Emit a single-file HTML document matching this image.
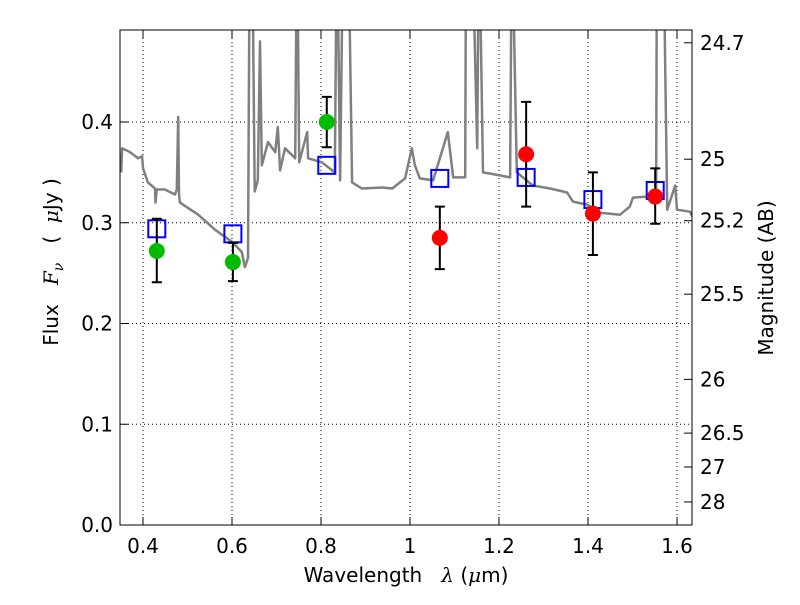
<!DOCTYPE html>
<html><head><meta charset="utf-8"><style>
body{margin:0;background:#fff;}
svg text{font-family:"DejaVu Sans","Liberation Sans",sans-serif;fill:#000;white-space:pre;}
</style></head><body>
<svg id="chart" width="800" height="600" xmlns="http://www.w3.org/2000/svg">
<rect width="800" height="600" fill="#fff"/>
<defs><clipPath id="pc"><rect x="120" y="30" width="572" height="495"/></clipPath></defs>
<g id="grid"></g>
<g id="spec" clip-path="url(#pc)"></g>
<g id="marks" clip-path="url(#pc)"></g>
<rect x="120" y="30" width="572" height="495" fill="none" stroke="#000" stroke-width="1"/>
<g id="axes"></g>
<text x="406" y="582" font-size="20" text-anchor="middle">Wavelength&#160;&#160;&#160;<tspan font-style="italic" font-family="DejaVu Serif,serif">λ</tspan>&#160;(<tspan font-style="italic" font-family="DejaVu Serif,serif">μ</tspan>m)</text>
<text transform="translate(58,262) rotate(-90)" font-size="20" text-anchor="middle">Flux&#160;&#160;&#160;<tspan font-style="italic" font-family="DejaVu Serif,serif">F</tspan><tspan font-style="italic" font-size="14" dy="5" font-family="DejaVu Serif,serif">ν</tspan><tspan dy="-5">&#160;&#160;&#160;(&#160;&#160;</tspan><tspan font-style="italic" font-family="DejaVu Serif,serif">μ</tspan>Jy&#160;)</text>
<text transform="translate(773,278) rotate(-90)" font-size="20" text-anchor="middle">Magnitude (AB)</text>
</svg>
<script>
const specWave=[0.351,0.353,0.371,0.389,0.398,0.400,0.411,0.427,0.428,0.431,0.449,0.472,0.476,0.479,0.481,0.483,0.524,0.562,0.600,0.622,0.629,0.636,0.640,0.645,0.651,0.658,0.663,0.667,0.681,0.697,0.703,0.708,0.719,0.742,0.746,0.751,0.769,0.771,0.802,0.831,0.836,0.843,0.850,0.861,0.870,0.892,0.937,0.960,0.989,1.004,1.011,1.022,1.052,1.085,1.097,1.124,1.126,1.139,1.151,1.155,1.164,1.202,1.225,1.229,1.240,1.276,1.315,1.353,1.366,1.398,1.427,1.472,1.494,1.501,1.533,1.553,1.555,1.569,1.578,1.596,1.600,1.629,1.636];
const specFlux=[0.350,0.374,0.370,0.364,0.366,0.354,0.340,0.334,0.320,0.333,0.333,0.328,0.333,0.405,0.328,0.320,0.308,0.293,0.281,0.271,0.256,0.265,0.6,0.6,0.331,0.342,0.48,0.357,0.380,0.370,0.395,0.352,0.374,0.364,0.6,0.360,0.390,0.364,0.360,0.350,0.6,0.342,0.6,0.6,0.340,0.334,0.335,0.334,0.344,0.374,0.357,0.344,0.342,0.390,0.345,0.345,0.6,0.6,0.374,0.6,0.350,0.347,0.345,0.6,0.350,0.337,0.334,0.330,0.321,0.318,0.310,0.308,0.316,0.325,0.326,0.323,0.6,0.6,0.313,0.337,0.313,0.311,0.305];
const greenWave=[0.431,0.602,0.813];
const greenFlux=[0.272,0.261,0.400];
const greenLo=[0.241,0.242,0.375];
const greenHi=[0.304,0.280,0.425];
const redWave=[1.067,1.261,1.411,1.551];
const redFlux=[0.285,0.368,0.309,0.326];
const redLo=[0.254,0.316,0.268,0.299];
const redHi=[0.316,0.420,0.350,0.354];
const modelWave=[0.431,0.602,0.813,1.067,1.261,1.411,1.551];
const modelFlux=[0.294,0.289,0.357,0.344,0.345,0.323,0.332];
const xTicks=[0.4,0.6,0.8,1.0,1.2,1.4,1.6];
const xTickLabels=["0.4","0.6","0.8","1","1.2","1.4","1.6"];
const yTicks=[0.0,0.1,0.2,0.3,0.4];
const yTickLabels=["0.0","0.1","0.2","0.3","0.4"];
const magTicks=[24.7,25,25.2,25.5,26,26.5,27,28];
const magTickLabels=["24.7","25","25.2","25.5","26","26.5","27","28"];

const X=v=>143+(v-0.4)*445;
const Y=v=>525-v*1007.5;
const NS="http://www.w3.org/2000/svg";
function mk(parent,tag,attrs){const e=document.createElementNS(NS,tag);for(const k in attrs)e.setAttribute(k,attrs[k]);document.getElementById(parent).appendChild(e);return e;}

xTicks.forEach((t,i)=>{
  const g=mk('grid','line',{x1:X(t),x2:X(t),y1:30,y2:525,stroke:'#000','stroke-dasharray':'1,3','stroke-width':1});
  
  
  const a=mk('axes','line',{x1:X(t),x2:X(t),y1:525,y2:517,stroke:'#000'});
  
  
  const b=mk('axes','line',{x1:X(t),x2:X(t),y1:30,y2:38,stroke:'#000'});
  
  
  const l=mk('axes','text',{x:X(t),y:553,'font-size':20,'text-anchor':'middle'});
  l.textContent=xTickLabels[i];
  
  
});
yTicks.forEach((t,i)=>{
  const g=mk('grid','line',{x1:120,x2:692,y1:Y(t),y2:Y(t),stroke:'#000','stroke-dasharray':'1,3','stroke-width':1});
  
  
  const a=mk('axes','line',{x1:120,x2:128,y1:Y(t),y2:Y(t),stroke:'#000'});
  
  
  const l=mk('axes','text',{x:113,y:Y(t)+7,'font-size':20,'text-anchor':'end'});
  l.textContent=yTickLabels[i];
  
  
});
magTicks.forEach((m,i)=>{
  const f=Math.pow(10,(23.9-m)/2.5);
  const y=Y(f);
  const a=mk('axes','line',{x1:692,x2:684,y1:y,y2:y,stroke:'#000'});
  
  
  const l=mk('axes','text',{x:700,y:y+7,'font-size':20,'text-anchor':'start'});
  l.textContent=magTickLabels[i];
  
  
});
const d=specWave.map((w,i)=>(i?'L':'M')+X(w).toFixed(1)+','+Y(specFlux[i]).toFixed(1)).join(' ');
const sp=mk('spec','path',{d:d,fill:'none',stroke:'#808080','stroke-width':2.5,'stroke-linejoin':'round'});


modelWave.forEach((w,i)=>{
  const r=mk('marks','rect',{x:X(w)-8.5,y:Y(modelFlux[i])-8.5,width:17,height:17,fill:'none',stroke:'#0000ff','stroke-width':2});
  
  
});
function pts(wv,fl,lo,hi,color,name){
  wv.forEach((w,i)=>{
    const x=X(w);
    const e=mk('marks','path',{d:`M${x},${Y(lo[i])} L${x},${Y(hi[i])} M${x-5},${Y(lo[i])} L${x+5},${Y(lo[i])} M${x-5},${Y(hi[i])} L${x+5},${Y(hi[i])}`,stroke:'#000','stroke-width':2,fill:'none'});
    
    
    const c=mk('marks','circle',{cx:x,cy:Y(fl[i]),r:8,fill:color});
    
    
  });
}
pts(greenWave,greenFlux,greenLo,greenHi,'#00bb00','green-photometry');
pts(redWave,redFlux,redLo,redHi,'#ff0000','red-photometry');
</script>
</body></html>
